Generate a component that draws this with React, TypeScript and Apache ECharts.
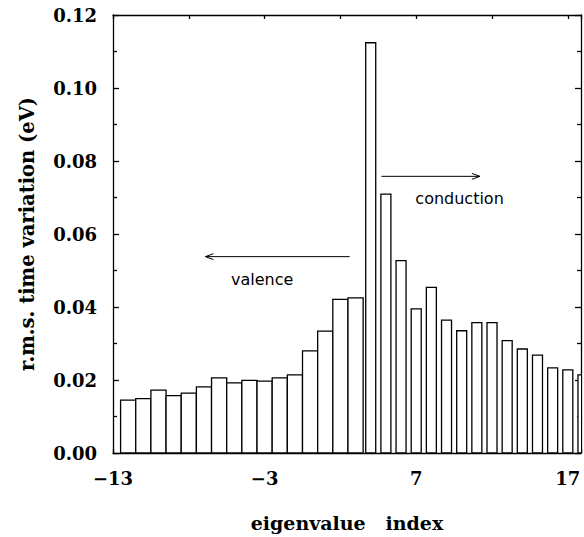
import React, { useEffect, useRef } from "react";
import * as echarts from "echarts";

// eigenvalue indices (bar centres)
const indices: number[] = [
  -12, -11, -10, -9, -8, -7, -6, -5, -4, -3, -2, -1, 0, 1, 2, 3,
  4, 5, 6, 7, 8, 9, 10, 11, 12, 13, 14, 15, 16, 17, 18,
];
// r.m.s. time variation (eV)
const rmsValues: number[] = [
  0.0145, 0.0149, 0.0172, 0.0157, 0.0164, 0.0181, 0.0206, 0.0192, 0.0199, 0.0197,
  0.0206, 0.0214, 0.028, 0.0334, 0.0421, 0.0425,
  0.1124, 0.0709, 0.0527, 0.0395, 0.0454, 0.0364, 0.0335, 0.0357, 0.0357,
  0.0308, 0.0285, 0.0268, 0.0233, 0.0228, 0.0214,
];
const xTickLabels: number[] = [-13, -3, 7, 17];
const yTickLabels: string[] = ["0.00", "0.02", "0.04", "0.06", "0.08", "0.10", "0.12"];

const CONDUCTION_START = 4;

// annotations in data coordinates
const valenceArrow = { from: [2.61, 0.0538], to: [-6.9, 0.0538] };
const valenceText = { at: [-3.16, 0.0474], text: "valence" };
const conductionArrow = { from: [4.71, 0.0758], to: [11.2, 0.0758] };
const conductionText = { at: [9.86, 0.0697], text: "conduction" };

const SERIF = "'DejaVu Serif', 'Liberation Serif', serif";
const SANS = "'DejaVu Sans', 'Noto Sans', sans-serif";

export default function App() {
  const ref = useRef<HTMLDivElement>(null);

  useEffect(() => {
    if (!ref.current) return;
    const chart = echarts.init(ref.current, undefined, { renderer: "svg" });
    const data = indices.map((x, i) => [x, rmsValues[i]]);
    const lineStyle = { color: "#000", width: 1.3 };

    const xBase = {
      type: "value" as const,
      min: -13,
      max: 17.87,
      interval: 5,
      splitLine: { show: false },
      axisLine: { show: true, onZero: false, lineStyle },
      axisTick: { show: true, inside: true, length: 4, lineStyle },
    };
    const yBase = {
      type: "value" as const,
      min: 0,
      max: 0.12,
      interval: 0.02,
      splitLine: { show: false },
      axisLine: { show: true, onZero: false, lineStyle },
      axisTick: { show: true, inside: true, length: 6, lineStyle },
      minorTick: { show: true, splitNumber: 2, length: 4, lineStyle },
    };

    chart.setOption({
      animation: false,
      backgroundColor: "#fff",
      grid: { left: 113, right: 3, top: 15, bottom: 81, containLabel: false },
      xAxis: [
        {
          ...xBase,
          position: "bottom",
          axisLabel: {
            show: true,
            margin: 16,
            color: "#000",
            fontFamily: SERIF,
            fontWeight: "bold",
            fontSize: 18,
            formatter: (v: number) =>
              xTickLabels.some((t) => Math.abs(t - v) < 1e-6)
                ? (v < 0 ? "\u2212" + Math.abs(v) : String(v))
                : "",
          },
          name: "eigenvalue   index",
          nameLocation: "middle",
          nameGap: 60,
          nameTextStyle: {
            color: "#000",
            fontFamily: SERIF,
            fontWeight: "bold",
            fontSize: 19,
          },
        },
        { ...xBase, position: "top", axisLabel: { show: false } },
      ],
      yAxis: [
        {
          ...yBase,
          position: "left",
          axisLabel: {
            show: true,
            margin: 16,
            color: "#000",
            fontFamily: SERIF,
            fontWeight: "bold",
            fontSize: 18,
            formatter: (v: number) => {
              const s = v.toFixed(2);
              return yTickLabels.includes(s) ? s : "";
            },
          },
          name: "r.m.s. time variation (eV)",
          nameLocation: "middle",
          nameGap: 76,
          nameTextStyle: {
            color: "#000",
            fontFamily: SERIF,
            fontWeight: "bold",
            fontSize: 19.5,
          },
        },
        { ...yBase, position: "right", axisLabel: { show: false } },
      ],
      series: [
        {
          type: "custom",
          xAxisIndex: 0,
          yAxisIndex: 0,
          clip: true,
          data,
          renderItem: (params: any, api: any) => {
            const x = api.value(0);
            const y = api.value(1);
            const w = x >= CONDUCTION_START ? 0.66 : 1;
            const p0 = api.coord([x - w / 2, y]);
            const p1 = api.coord([x + w / 2, 0]);
            return {
              type: "rect",
              shape: {
                x: p0[0],
                y: p0[1],
                width: p1[0] - p0[0],
                height: p1[1] - p0[1],
              },
              style: { fill: "#fff", stroke: "#000", lineWidth: 1.3 },
            };
          },
        },
      ],
    });

    const px = (p: number[]) =>
      chart.convertToPixel({ xAxisIndex: 0, yAxisIndex: 0 }, p) as number[];

    const arrow = (a: { from: number[]; to: number[] }) => {
      const f = px(a.from);
      const t = px(a.to);
      const dir = Math.sign(t[0] - f[0]);
      return [
        {
          type: "line",
          shape: { x1: f[0], y1: f[1], x2: t[0], y2: t[1] },
          style: { stroke: "#000", lineWidth: 1 },
        },
        {
          type: "polyline",
          shape: {
            points: [
              [t[0] - dir * 8, t[1] - 3],
              [t[0], t[1]],
              [t[0] - dir * 8, t[1] + 3],
            ],
          },
          style: { stroke: "#000", lineWidth: 1, fill: "none" },
        },
      ];
    };
    const label = (l: { at: number[]; text: string }) => {
      const p = px(l.at);
      return {
        type: "text",
        x: p[0],
        y: p[1],
        style: {
          text: l.text,
          fill: "#000",
          font: `16px ${SANS}`,
          align: "center",
          verticalAlign: "middle",
        },
      };
    };

    chart.setOption({
      graphic: [
        ...arrow(valenceArrow),
        label(valenceText),
        ...arrow(conductionArrow),
        label(conductionText),
      ],
    });

    return () => chart.dispose();
  }, []);

  return (
    <div
      ref={ref}
      style={{ position: "fixed", left: 0, top: 0, width: 584, height: 537 }}
    />
  );
}
